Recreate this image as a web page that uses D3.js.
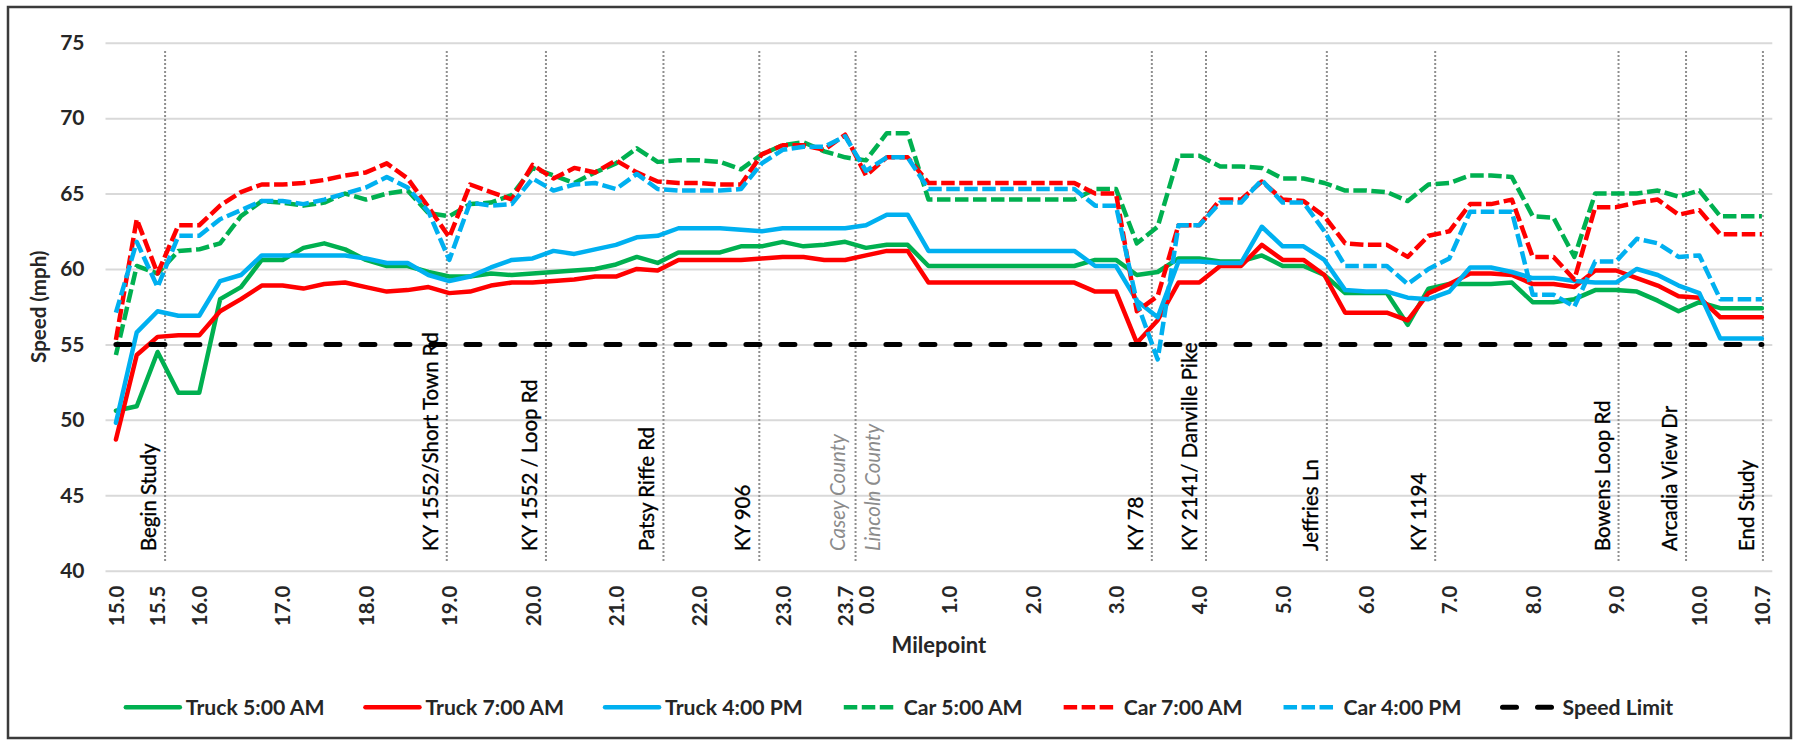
<!DOCTYPE html>
<html><head><meta charset="utf-8">
<script src="https://cdn.jsdelivr.net/npm/d3@7"></script>
<style>
html,body{margin:0;padding:0;background:#fff;}
svg{display:block;font-family:Lato,"Open Sans",sans-serif;}
</style></head><body>
<svg id="chart" width="1795" height="741"></svg>
<script>
// ---------------- DATA ----------------
const caseyMilepoints = [15.0,15.25,15.5,15.75,16.0,16.25,16.5,16.75,17.0,17.25,17.5,17.75,18.0,18.25,18.5,18.75,19.0,19.25,19.5,19.75,20.0,20.25,20.5,20.75,21.0,21.25,21.5,21.75,22.0,22.25,22.5,22.75,23.0,23.25,23.5,23.7];
const lincolnMilepoints = [0.0,0.25,0.5,0.75,1.0,1.25,1.5,1.75,2.0,2.25,2.5,2.75,3.0,3.25,3.5,3.75,4.0,4.25,4.5,4.75,5.0,5.25,5.5,5.75,6.0,6.25,6.5,6.75,7.0,7.25,7.5,7.75,8.0,8.25,8.5,8.75,9.0,9.25,9.5,9.75,10.0,10.25,10.5,10.7];
const tickLabels = ["15.0","15.5","16.0","17.0","18.0","19.0","20.0","21.0","22.0","23.0","23.7","0.0","1.0","2.0","3.0","4.0","5.0","6.0","7.0","8.0","9.0","10.0","10.7"];
const yTickValues = [40,45,50,55,60,65,70,75];

const truck5am = [50.6,50.9,54.5,51.8,51.8,58.0,58.8,60.6,60.6,61.4,
 61.7,61.3,60.6,60.2,60.2,59.8,59.5,59.5,59.7,59.6,
 59.7,59.8,59.9,60.0,60.3,60.8,60.4,61.1,61.1,61.1,
 61.5,61.5,61.8,61.5,61.6,61.8,61.4,61.6,61.6,60.2,
 60.2,60.2,60.2,60.2,60.2,60.2,60.2,60.6,60.6,59.6,
 59.8,60.7,60.7,60.5,60.5,60.9,60.2,60.2,59.6,58.4,
 58.4,58.4,56.3,58.7,59.0,59.0,59.0,59.1,57.8,57.8,
 58.0,58.6,58.6,58.5,57.9,57.2,57.8,57.4,57.4,57.4];
const truck7am = [48.7,54.3,55.5,55.6,55.6,57.2,58.0,58.9,58.9,58.7,
 59.0,59.1,58.8,58.5,58.6,58.8,58.4,58.5,58.9,59.1,
 59.1,59.2,59.3,59.5,59.5,60.0,59.9,60.6,60.6,60.6,
 60.6,60.7,60.8,60.8,60.6,60.6,60.9,61.2,61.2,59.1,
 59.1,59.1,59.1,59.1,59.1,59.1,59.1,58.5,58.5,55.1,
 56.6,59.1,59.1,60.2,60.2,61.6,60.6,60.6,59.6,57.1,
 57.1,57.1,56.6,58.4,59.0,59.7,59.7,59.6,59.0,59.0,
 58.8,59.9,59.9,59.4,58.9,58.2,58.1,56.8,56.8,56.8];
const truck4pm = [49.8,55.8,57.2,56.9,56.9,59.2,59.6,60.9,60.9,60.9,
 60.9,60.9,60.7,60.4,60.4,59.6,59.2,59.5,60.1,60.6,
 60.7,61.2,61.0,61.3,61.6,62.1,62.2,62.7,62.7,62.7,
 62.6,62.5,62.7,62.7,62.7,62.7,62.9,63.6,63.6,61.2,
 61.2,61.2,61.2,61.2,61.2,61.2,61.2,60.2,60.2,57.9,
 56.8,60.5,60.5,60.4,60.4,62.8,61.5,61.5,60.6,58.6,
 58.5,58.5,58.1,58.0,58.5,60.1,60.1,59.8,59.4,59.4,
 59.2,59.1,59.1,60.0,59.6,58.9,58.4,55.4,55.4,55.4];
const car5am = [54.3,60.2,59.7,61.2,61.3,61.7,63.5,64.5,64.4,64.2,
 64.4,65.0,64.6,65.0,65.2,63.7,63.5,64.3,64.4,64.9,
 66.7,66.2,65.7,66.4,67.0,68.0,67.1,67.2,67.2,67.1,
 66.6,67.6,68.2,68.4,67.8,67.4,67.2,69.0,69.0,64.6,
 64.6,64.6,64.6,64.6,64.6,64.6,64.6,65.3,65.3,61.7,
 62.8,67.5,67.5,66.8,66.8,66.7,66.0,66.0,65.7,65.2,
 65.2,65.1,64.5,65.6,65.7,66.2,66.2,66.1,63.5,63.4,
 60.8,65.0,65.0,65.0,65.2,64.8,65.2,63.5,63.5,63.5];
const car7am = [55.3,63.3,59.7,62.9,62.9,64.2,65.1,65.6,65.6,65.7,
 65.9,66.2,66.4,67.0,66.0,64.1,62.1,65.6,65.1,64.6,
 66.9,66.0,66.7,66.4,67.2,66.4,65.8,65.7,65.7,65.6,
 65.6,67.6,68.2,68.2,67.9,68.9,66.2,67.4,67.4,65.7,
 65.7,65.7,65.7,65.7,65.7,65.7,65.7,65.0,65.0,57.2,
 58.2,62.9,62.9,64.6,64.6,65.8,64.6,64.5,63.5,61.7,
 61.6,61.6,60.8,62.2,62.5,64.3,64.3,64.6,60.8,60.8,
 59.3,64.1,64.1,64.4,64.6,63.6,63.9,62.3,62.3,62.3];
const car4pm = [57.1,61.8,58.8,62.2,62.2,63.3,63.9,64.5,64.5,64.3,
 64.6,65.0,65.4,66.1,65.4,63.8,60.6,64.4,64.2,64.3,
 66.0,65.2,65.6,65.7,65.3,66.3,65.3,65.2,65.2,65.2,
 65.3,67.0,67.9,68.1,68.1,68.8,66.5,67.4,67.4,65.3,
 65.3,65.3,65.3,65.3,65.3,65.3,65.3,64.2,64.2,57.8,
 54.0,62.9,62.9,64.4,64.4,65.9,64.4,64.4,62.5,60.2,
 60.2,60.2,59.0,60.0,60.7,63.8,63.8,63.8,58.3,58.3,
 57.5,60.5,60.5,62.0,61.7,60.8,60.9,58.0,58.0,58.0];
const speedLimit = [55,55,55,55,55,55,55,55,55,55,
 55,55,55,55,55,55,55,55,55,55,
 55,55,55,55,55,55,55,55,55,55,
 55,55,55,55,55,55,55,55,55,55,
 55,55,55,55,55,55,55,55,55,55,
 55,55,55,55,55,55,55,55,55,55,
 55,55,55,55,55,55,55,55,55,55,
 55,55,55,55,55,55,55,55,55,55];

const landmarkNames = ["Begin Study","KY 1552/Short Town Rd","KY 1552 / Loop Rd","Patsy Riffe Rd","KY 906","KY 78","KY 2141/ Danville Pike","Jeffries Ln","KY 1194","Bowens Loop Rd","Arcadia View Dr","End Study"];
const landmarkCounty = ["Casey","Casey","Casey","Casey","Casey","Lincoln","Lincoln","Lincoln","Lincoln","Lincoln","Lincoln","Lincoln"];
const landmarkMilepoints = [15.59,18.97,20.16,21.57,22.72,3.43,4.08,5.53,6.83,9.03,9.84,10.71];
const countyNames = ["Casey County","Lincoln County"];

const seriesNames = ["Truck 5:00 AM","Truck 7:00 AM","Truck 4:00 PM","Car 5:00 AM","Car 7:00 AM","Car 4:00 PM","Speed Limit"];
const seriesValues = [truck5am,truck7am,truck4pm,car5am,car7am,car4pm,speedLimit];
const seriesColors = ["#00B050","#FF0000","#00B0F0","#00B050","#FF0000","#00B0F0","#000000"];
const seriesKinds = ["solid","solid","solid","dash","dash","dash","longdash"];

// ---------------- LAYOUT ----------------
const categories = caseyMilepoints.map(m=>({mp:m,county:"Casey"})).concat(lincolnMilepoints.map(m=>({mp:m,county:"Lincoln"})));
const n = categories.length;
const plot = {left:105.5,right:1772.3,top:42.7,bottom:570.7};
const svg = d3.select("#chart");

svg.append("rect").attr("x",8).attr("y",7).attr("width",1783).attr("height",731)
  .attr("fill","#fff").attr("stroke","#3b3b3b").attr("stroke-width",2.5);

const x = d3.scaleLinear().domain([-0.5,n-0.5]).range([plot.left,plot.right]);
const y = d3.scaleLinear().domain([40,75]).range([plot.bottom,plot.top]);

// y axis with gridlines
const yAxis = svg.append("g").attr("transform",`translate(${plot.left},0)`)
  .call(d3.axisLeft(y).tickValues(yTickValues).tickSize(-(plot.right-plot.left)).tickPadding(21).tickFormat(d3.format("d")));
yAxis.select(".domain").remove();
yAxis.selectAll(".tick line").attr("stroke","#d9d9d9").attr("stroke-width",2);
yAxis.selectAll(".tick text").attr("font-size",21).attr("font-weight",700).attr("fill","#262626").attr("font-family","Lato");

// category position helpers
function fmt(v){return v.toFixed(1);}
function mpToIndex(county, mp){
  const idx = categories.map((c,i)=>i).filter(i=>categories[i].county===county);
  for(let k=0;k<idx.length-1;k++){
    const a=idx[k], b=idx[k+1];
    const ma=categories[a].mp, mb=categories[b].mp;
    if((mp>=ma && mp<=mb) || k===idx.length-2){
      return a + (mp-ma)/(mb-ma)*(b-a);
    }
  }
  return idx[0];
}

// landmark dotted lines
const lmTop = 74.45, lmBottom = 40.6, lmTextStart = 41.3;
const landmarks = landmarkNames.map((nm,i)=>({name:nm,pos:mpToIndex(landmarkCounty[i],landmarkMilepoints[i])}));
const lastCasey = caseyMilepoints.length-1;
const countyPos = lastCasey + 0.5;
const lmG = svg.append("g");
lmG.selectAll("line").data(landmarks.map(d=>d.pos).concat([countyPos])).join("line")
  .attr("x1",d=>x(d)).attr("x2",d=>x(d)).attr("y1",y(lmTop)).attr("y2",y(lmBottom))
  .attr("stroke","#8f8f8f").attr("stroke-width",2).attr("stroke-dasharray","2 2");
lmG.selectAll("text.lm").data(landmarks).join("text").attr("class","lm")
  .attr("transform",d=>`translate(${x(d.pos)-9},${y(lmTextStart)}) rotate(-90)`)
  .attr("font-size",20.5).attr("fill","#000").attr("stroke","#000").attr("stroke-width",0.35)
  .attr("text-anchor","start").text(d=>d.name);
lmG.selectAll("text.cty").data(countyNames).join("text").attr("class","cty")
  .attr("transform",(d,i)=>`translate(${x(countyPos)+(i===0?-11:24)},${y(lmTextStart)}) rotate(-90)`)
  .attr("font-size",20.5).attr("font-style","italic").attr("fill","#8c8c8c").attr("text-anchor","start").text(d=>d);

// x axis
const tickIdx = tickLabels.map(t=>categories.findIndex(c=>fmt(c.mp)===t));
const xAxis = svg.append("g").attr("transform",`translate(0,${plot.bottom})`)
  .call(d3.axisBottom(x).tickValues(tickIdx).tickSize(0).tickFormat(i=>fmt(categories[i].mp)));
xAxis.select(".domain").remove();
xAxis.selectAll(".tick text").attr("font-size",20.5).attr("font-weight",700).attr("fill","#262626")
  .attr("font-family","Lato").attr("text-anchor","end").attr("y",0).attr("dy","0.36em")
  .attr("transform","translate(0,15) rotate(-90)");

// axis titles
svg.append("text").attr("x",(plot.left+plot.right)/2).attr("y",653).attr("text-anchor","middle")
  .attr("font-size",22).attr("font-weight",700).attr("fill","#262626").text("Milepoint");
svg.append("text").attr("transform",`translate(46,${(plot.top+plot.bottom)/2}) rotate(-90)`).attr("text-anchor","middle")
  .attr("font-size",20.5).attr("font-weight",700).attr("fill","#262626").text("Speed (mph)");

// series
const line = d3.line().x((d,i)=>x(i)).y(d=>y(d));
function styleFor(kind){
  if(kind==="solid") return {w:4.5,dash:null,cap:"round"};
  if(kind==="dash") return {w:4.5,dash:"13.5 4.5",cap:"butt"};
  return {w:5,dash:"14 21",cap:"round"};
}
const sG = svg.append("g");
seriesValues.forEach((vals,s)=>{
  const st = styleFor(seriesKinds[s]);
  sG.append("path").datum(vals).attr("d",line).attr("fill","none")
    .attr("stroke",seriesColors[s]).attr("stroke-width",st.w)
    .attr("stroke-linejoin","round").attr("stroke-linecap",st.cap)
    .attr("stroke-dasharray",st.dash);
});

// legend
const legY = 707.3, swLen = 54, gapTxt = 6, gapItem = 41;
const legG = svg.append("g");
const items = [];
seriesNames.forEach((nm,s)=>{
  const g = legG.append("g");
  const st = styleFor(seriesKinds[s]);
  g.append("line").attr("x1",0).attr("x2",swLen).attr("y1",legY).attr("y2",legY)
    .attr("stroke",seriesColors[s]).attr("stroke-width",st.w).attr("stroke-linecap",st.cap)
    .attr("stroke-dasharray",st.dash);
  const t = g.append("text").attr("x",swLen+gapTxt).attr("y",legY+7.4).attr("font-size",21.2)
    .attr("font-weight",700).attr("fill","#262626").text(nm);
  const w = swLen+gapTxt+t.node().getComputedTextLength();
  items.push({g,w});
});
const total = d3.sum(items,d=>d.w)+gapItem*(items.length-1);
let start = (8+1791)/2 - total/2;
items.forEach(it=>{ it.g.attr("transform",`translate(${start},0)`); start += it.w+gapItem; });
</script>
</body></html>
